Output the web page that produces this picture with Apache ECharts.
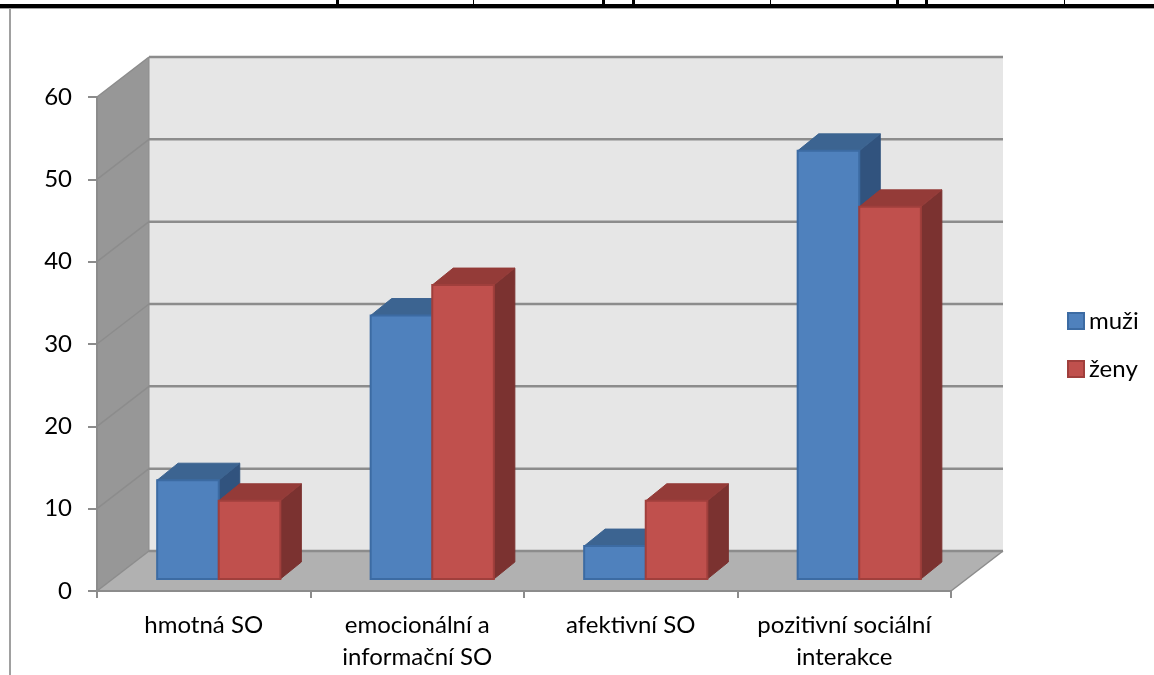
<!DOCTYPE html>
<html>
<head>
<meta charset="utf-8">
<style>
  html, body { margin: 0; padding: 0; background: #fff; }
  #chart { width: 1154px; height: 675px; }
</style>
<script src="https://cdn.jsdelivr.net/npm/echarts@6/dist/echarts.min.js"></script>
</head>
<body>
<div id="chart"></div>
<script>
const categories = ["hmotná SO", "emocionální a\ninformační SO", "afektivní SO", "pozitivní sociální\ninterakce"];
const muzi = [12, 32, 4, 52];
const zeny = [9.5, 35.7, 9.5, 45.2];
const yTicks = [0, 10, 20, 30, 40, 50, 60];

// tvar 3D krabice
const DEPTH = { x: 52, y: -40 };
const BAR_SHIFT = { x: 15, y: -12 };
const BAR_DEPTH = { x: 21, y: -17 };
const BAR_WIDTH = 0.2885;

const GRID_LINE = "#8c8c8c";

function poly(points, fill, stroke, lineWidth) {
  return {
    type: "polygon",
    shape: { points: points },
    style: { fill: fill, stroke: stroke || null, lineWidth: lineWidth || 0 },
  };
}

function line(x1, y1, x2, y2, width) {
  return {
    type: "line",
    shape: { x1: x1, y1: y1, x2: x2, y2: y2 },
    style: { stroke: GRID_LINE, lineWidth: width },
  };
}

// zadni stena, bocni stena, podlaha a mrizka
function renderWalls(params, api) {
  const cs = params.coordSys;
  const l = cs.x;
  const r = cs.x + cs.width;
  const bottom = api.coord([0, 0])[1];
  const top = api.coord([0, yTicks[yTicks.length - 1]])[1];
  const dx = DEPTH.x;
  const dy = DEPTH.y;
  const children = [
    poly([[l + dx, top + dy], [r + dx, top + dy], [r + dx, bottom + dy], [l + dx, bottom + dy]], "#e6e6e6"),
    poly([[l, top], [l + dx, top + dy], [l + dx, bottom + dy], [l, bottom]], "#979797"),
    poly([[l, bottom], [l + dx, bottom + dy], [r + dx, bottom + dy], [r, bottom]], "#b1b1b1"),
  ];
  yTicks.forEach((t) => {
    const y = api.coord([0, t])[1];
    children.push(line(l, y, l + dx, y + dy, 1.5));
    children.push(line(l + dx, y + dy, r + dx, y + dy, 2.5));
  });
  children.push(line(l + dx, top + dy, l + dx, bottom + dy, 1));
  children.push(line(r, bottom, r + dx, bottom + dy, 1.5));
  return { type: "group", children: children };
}

function renderBar(slot, colors) {
  return function (params, api) {
    const cat = api.value(0);
    const base = api.coord([cat, 0]);
    const tip = api.coord([cat, api.value(1)]);
    const w = api.size([1, 0])[0] * BAR_WIDTH;
    const x0 = base[0] + BAR_SHIFT.x + (slot === 0 ? -w : 0);
    const x1 = x0 + w;
    const y0 = tip[1] + BAR_SHIFT.y;
    const y1 = base[1] + BAR_SHIFT.y;
    const dx = BAR_DEPTH.x;
    const dy = BAR_DEPTH.y;
    return {
      type: "group",
      children: [
        poly([[x1, y0], [x1 + dx, y0 + dy], [x1 + dx, y1 + dy], [x1, y1]], colors.side, colors.side, 1),
        poly([[x0, y0], [x0 + dx, y0 + dy], [x1 + dx, y0 + dy], [x1, y0]], colors.top, colors.top, 1),
        poly([[x0, y0], [x1, y0], [x1, y1], [x0, y1]], colors.front, colors.edge, 2),
      ],
    };
  };
}

const blue = { front: "#4f81bd", edge: "#3c6ba3", top: "#3c6491", side: "#31537e" };
const red = { front: "#c0504d", edge: "#a03f3c", top: "#943b38", side: "#7b3230" };

const chart = echarts.init(document.getElementById("chart"));
chart.setOption({
  animation: false,
  backgroundColor: "#fff",
  textStyle: { fontFamily: "Lato" },
  grid: { left: 97, top: 97, width: 854, height: 494 },
  legend: {
    orient: "vertical",
    left: 1062,
    top: 303,
    itemWidth: 16,
    itemHeight: 16,
    itemGap: 22,
    icon: "rect",
    selectedMode: false,
    textStyle: { fontFamily: "Lato", fontSize: 24, color: "#000", lineHeight: 26 },
    data: ["muži", "ženy"],
  },
  xAxis: {
    type: "category",
    data: categories,
    z: 5,
    axisLine: { lineStyle: { color: GRID_LINE, width: 2 } },
    axisTick: { show: true, length: 7, lineStyle: { color: GRID_LINE, width: 2 } },
    axisLabel: { interval: 0, color: "#000", fontFamily: "Lato", fontSize: 24, lineHeight: 32, margin: 18 },
  },
  yAxis: {
    type: "value",
    min: 0,
    max: 60,
    interval: 10,
    z: 5,
    splitLine: { show: false },
    axisLine: { show: true, lineStyle: { color: GRID_LINE, width: 2 } },
    axisTick: { show: true, length: 9, lineStyle: { color: GRID_LINE, width: 2 } },
    axisLabel: { color: "#000", fontFamily: "Lato", fontSize: 24, margin: 25 },
  },
  series: [
    { type: "custom", name: "steny", silent: true, z: 1, clip: false, data: [[0]], renderItem: renderWalls },
    {
      type: "custom",
      name: "muži",
      z: 2,
      clip: false,
      itemStyle: { color: blue.front, borderColor: blue.edge, borderWidth: 2 },
      data: muzi.map((v, i) => [i, v]),
      encode: { x: 0, y: 1 },
      renderItem: renderBar(0, blue),
    },
    {
      type: "custom",
      name: "ženy",
      z: 3,
      clip: false,
      itemStyle: { color: red.front, borderColor: red.edge, borderWidth: 2 },
      data: zeny.map((v, i) => [i, v]),
      encode: { x: 0, y: 1 },
      renderItem: renderBar(1, red),
    },
  ],
  graphic: [
    { type: "rect", silent: true, shape: { x: 0, y: 4, width: 1154, height: 4 }, style: { fill: "#000" } },
    { type: "rect", silent: true, shape: { x: 0, y: 8, width: 1154, height: 1 }, style: { fill: "#a0a0a0" } },
    { type: "rect", silent: true, shape: { x: 9, y: 8, width: 2, height: 667 }, style: { fill: "#a0a0a0" } },
    { type: "rect", silent: true, shape: { x: 336, y: 0, width: 3, height: 5 }, style: { fill: "#000" } },
    { type: "rect", silent: true, shape: { x: 473, y: 0, width: 1, height: 5 }, style: { fill: "#000" } },
    { type: "rect", silent: true, shape: { x: 602, y: 0, width: 3, height: 5 }, style: { fill: "#000" } },
    { type: "rect", silent: true, shape: { x: 632, y: 0, width: 3, height: 5 }, style: { fill: "#000" } },
    { type: "rect", silent: true, shape: { x: 770, y: 0, width: 1, height: 5 }, style: { fill: "#000" } },
    { type: "rect", silent: true, shape: { x: 896, y: 0, width: 3, height: 5 }, style: { fill: "#000" } },
    { type: "rect", silent: true, shape: { x: 925, y: 0, width: 3, height: 5 }, style: { fill: "#000" } },
    { type: "rect", silent: true, shape: { x: 1064, y: 0, width: 1, height: 5 }, style: { fill: "#000" } },
  ],
});
</script>
</body>
</html>
